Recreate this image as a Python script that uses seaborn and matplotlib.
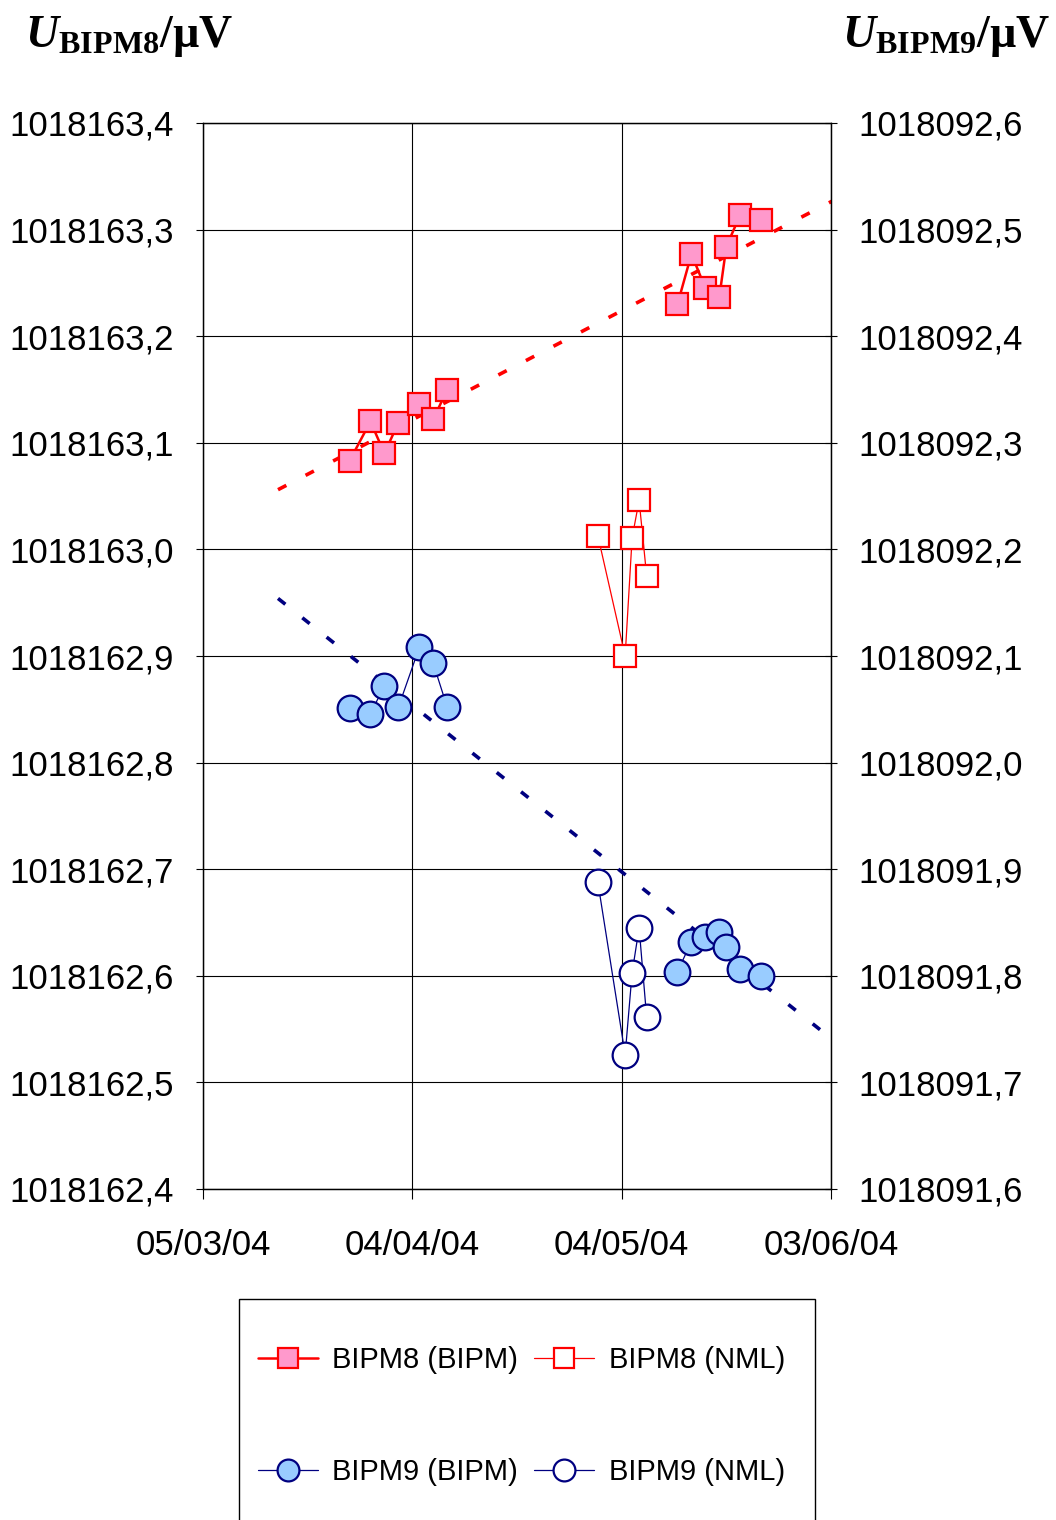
import matplotlib
matplotlib.use("Agg")
import matplotlib.pyplot as plt
from matplotlib.patches import Rectangle
import numpy as np
import pandas as pd
import seaborn as sns

# ---------------- data ----------------
bipm_dates_1 = ["2004-03-26", "2004-03-29", "2004-03-31", "2004-04-02",
                "2004-04-05", "2004-04-07", "2004-04-09"]
bipm_dates_2 = ["2004-05-12", "2004-05-14", "2004-05-16", "2004-05-18",
                "2004-05-19", "2004-05-21", "2004-05-24"]
nml_dates = ["2004-04-30 14:00", "2004-05-04 12:00", "2004-05-05 12:00",
             "2004-05-06 12:00", "2004-05-07 14:00"]

bipm8_bipm_1 = [1018163.083, 1018163.120, 1018163.090, 1018163.119,
                1018163.136, 1018163.122, 1018163.150]
bipm8_bipm_2 = [1018163.230, 1018163.277, 1018163.245, 1018163.237,
                1018163.284, 1018163.314, 1018163.309]
bipm8_nml = [1018163.013, 1018162.900, 1018163.011, 1018163.046, 1018162.975]

bipm9_bipm_1 = [1018092.051, 1018092.046, 1018092.072, 1018092.052,
                1018092.108, 1018092.093, 1018092.052]
bipm9_bipm_2 = [1018091.804, 1018091.832, 1018091.836, 1018091.841,
                1018091.827, 1018091.806, 1018091.800]
bipm9_nml = [1018091.888, 1018091.726, 1018091.803, 1018091.845, 1018091.761]

trend_dates = ["2004-03-15 18:00", "2004-06-03 06:00"]
bipm8_trend = [1018163.056, 1018163.327]
bipm9_trend = [1018092.154, 1018091.740]

x_limits = ["2004-03-05", "2004-06-03"]
x_ticks = ["2004-03-05", "2004-04-04", "2004-05-04", "2004-06-03"]
x_tick_labels = ["05/03/04", "04/04/04", "04/05/04", "03/06/04"]

left_ticks = [1018162.4, 1018162.5, 1018162.6, 1018162.7, 1018162.8, 1018162.9,
              1018163.0, 1018163.1, 1018163.2, 1018163.3, 1018163.4]
left_tick_labels = ["1018162,4", "1018162,5", "1018162,6", "1018162,7", "1018162,8",
                    "1018162,9", "1018163,0", "1018163,1", "1018163,2", "1018163,3",
                    "1018163,4"]
right_ticks = [1018091.6, 1018091.7, 1018091.8, 1018091.9, 1018092.0, 1018092.1,
               1018092.2, 1018092.3, 1018092.4, 1018092.5, 1018092.6]
right_tick_labels = ["1018091,6", "1018091,7", "1018091,8", "1018091,9", "1018092,0",
                     "1018092,1", "1018092,2", "1018092,3", "1018092,4", "1018092,5",
                     "1018092,6"]

legend_labels = ["BIPM8 (BIPM)", "BIPM9 (BIPM)", "BIPM8 (NML)", "BIPM9 (NML)"]

# ---------------- style ----------------
sns.set_theme(style="white")
plt.rcParams["font.family"] = ["Liberation Sans", "DejaVu Sans"]
plt.rcParams["text.color"] = "black"
plt.rcParams["mathtext.fontset"] = "custom"
plt.rcParams["mathtext.rm"] = "Liberation Serif"
plt.rcParams["mathtext.bf"] = "Liberation Serif:bold"
plt.rcParams["mathtext.it"] = "Liberation Serif:italic"
plt.rcParams["mathtext.bfit"] = "Liberation Serif:italic:bold"

RED = "#FF0000"
PINK = "#FF99CC"
NAVY = "#000080"
LBLUE = "#99CCFF"

W, H = 1056, 1520
fig = plt.figure(figsize=(W / 100, H / 100), dpi=100)
ax = fig.add_axes([203 / W, 1 - 1189 / H, 628 / W, 1066 / H])
ax2 = ax.twinx()

d = pd.to_datetime

# trend lines
ax.plot(d(trend_dates), bipm8_trend, color=RED, lw=2.6,
        linestyle=(0, (2.6, 6)), zorder=2, clip_on=True)
ax2.plot(d(trend_dates), bipm9_trend, color=NAVY, lw=2.6,
         linestyle=(0, (2.6, 6)), zorder=2, clip_on=False)

common = dict(sort=False, estimator=None, legend=False)

# BIPM8 (BIPM)
for dates, vals in [(bipm_dates_1, bipm8_bipm_1), (bipm_dates_2, bipm8_bipm_2)]:
    sns.lineplot(x=d(dates), y=vals, ax=ax, color=RED, linewidth=1.8,
                 marker="s", markersize=16.5, markerfacecolor=PINK,
                 markeredgecolor=RED, markeredgewidth=1.6, zorder=3, **common)
h8b = ax.lines[-1]
# BIPM8 (NML)
sns.lineplot(x=d(nml_dates), y=bipm8_nml, ax=ax, color=RED, linewidth=0.9,
             marker="s", markersize=16.5, markerfacecolor="white",
             markeredgecolor=RED, markeredgewidth=1.6, zorder=3, **common)
h8n = ax.lines[-1]

# BIPM9 (BIPM)
for dates, vals in [(bipm_dates_1, bipm9_bipm_1), (bipm_dates_2, bipm9_bipm_2)]:
    sns.lineplot(x=d(dates), y=vals, ax=ax2, color=NAVY, linewidth=0.9,
                 marker="o", markersize=18.5, markerfacecolor=LBLUE,
                 markeredgecolor=NAVY, markeredgewidth=1.6, zorder=3, **common)
h9b = ax2.lines[-1]
# BIPM9 (NML)
sns.lineplot(x=d(nml_dates), y=bipm9_nml, ax=ax2, color=NAVY, linewidth=0.9,
             marker="o", markersize=18.5, markerfacecolor="white",
             markeredgecolor=NAVY, markeredgewidth=1.6, zorder=3, **common)
h9n = ax2.lines[-1]

# axes setup
ax.set_xlim(d(x_limits))
ax.set_xticks(d(x_ticks))
ax.set_xticklabels(x_tick_labels)
ax.set_ylim(left_ticks[0], left_ticks[-1])
ax.set_yticks(left_ticks)
ax.set_yticklabels(left_tick_labels)
ax2.set_ylim(right_ticks[0], right_ticks[-1])
ax2.set_yticks(right_ticks)
ax2.set_yticklabels(right_tick_labels)
for a in (ax, ax2):
    a.set_xlabel("")
    a.set_ylabel("")
    for s in a.spines.values():
        s.set_color("black")
        s.set_linewidth(0.9)
ax.grid(True, color="black", lw=0.8)
ax2.grid(False)
ax.set_axisbelow(True)

ax.tick_params(axis="y", direction="out", length=5, width=0.8, pad=16,
               labelsize=25, left=True, colors="black")
ax.tick_params(axis="x", direction="out", length=7, width=0.8, pad=22,
               labelsize=25, bottom=True, colors="black")
ax2.tick_params(axis="y", direction="inout", length=9, width=0.8, pad=15,
                labelsize=25, right=True, colors="black")

# axis titles
fig.text(25 / W, 1 - 47 / H, r"$\mathbfit{U}_{\mathbf{BIPM8}}\mathbf{/µV}$",
         fontsize=33, ha="left", va="baseline", color="black")
fig.text(1050 / W, 1 - 47 / H, r"$\mathbfit{U}_{\mathbf{BIPM9}}\mathbf{/µV}$",
         fontsize=33, ha="right", va="baseline", color="black")

# legend
fig.add_artist(Rectangle((239 / W, -0.05), (815 - 239) / W, (1 - 1299 / H) + 0.05,
                         transform=fig.transFigure, fill=False,
                         edgecolor="black", lw=1))
fig.legend(handles=[h8b, h9b, h8n, h9n], labels=legend_labels, ncol=2,
           loc="upper left", bbox_to_anchor=(258 / W, 1 - 1346 / H),
           frameon=False, borderpad=0, borderaxespad=0, handlelength=2.05,
           handletextpad=0.5, columnspacing=0.55, labelspacing=2.87,
           fontsize=21, markerscale=0.85, labelcolor="black")

fig.savefig("out.png", dpi=100)
